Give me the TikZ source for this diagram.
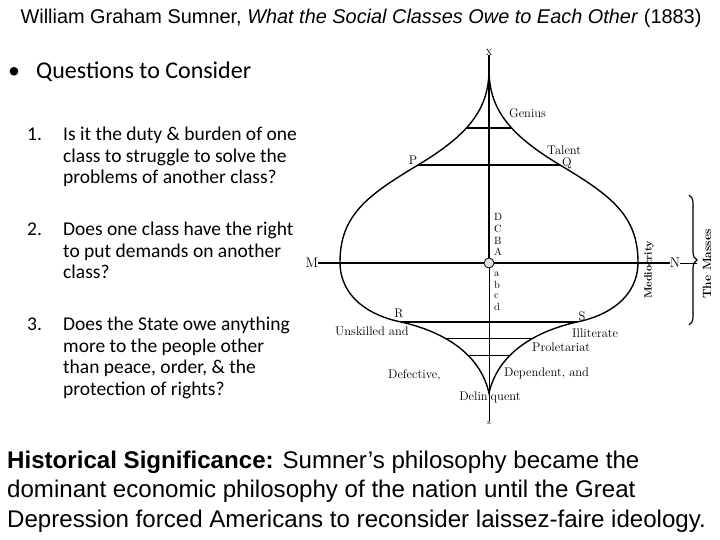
\documentclass[tikz,border=0pt]{standalone}
\usepackage{fontspec}
\newfontfamily\arialfont{Liberation Sans}
\newfontfamily\calibrifont{Carlito}
\usetikzlibrary{decorations.pathreplacing}

\tikzset{
    lbl/.style={inner sep=0pt, font=\fontsize{12.5}{14}\selectfont},
    stack lbl/.style={inner sep=0pt, anchor=west, font=\fontsize{10.5}{12}\selectfont},
    tiny lbl/.style={inner sep=0pt, font=\fontsize{9}{10}\selectfont},
    big lbl/.style={inner sep=0pt, font=\fontsize{14}{16}\selectfont},
    item/.style={inner sep=0pt, anchor=north west, align=left, font=\calibrifont\fontsize{19.5}{21.7}\selectfont},
    bulb/.style={line width=1.4pt}
}

\begin{document}
\begin{tikzpicture}[x=1pt, y=-1pt]
        \useasboundingbox (0, 0) rectangle (720, 540);

        \node[font=\arialfont\fontsize{19.9}{22}\selectfont] (title) at (361, 18) {William Graham Sumner, \textit{What the Social Classes Owe to Each Other} (1883)};

        \begin{scope}
            \node[inner sep=0pt, font=\calibrifont\fontsize{24}{28}\selectfont] (bullet) at (14, 73) {\textbullet};
            \node[inner sep=0pt, anchor=west, font=\calibrifont\fontsize{24}{28}\selectfont] (questions) at (36, 72) {Questions to Consider};
            \node[item] (item1) at (27, 125) {\begin{tabular}{@{}p{36pt}@{}l@{}}1. & Is it the duty \& burden of one\\ & class to struggle to solve the\\ & problems of another class?\end{tabular}};
            \node[item] (item2) at (27, 220) {\begin{tabular}{@{}p{36pt}@{}l@{}}2. & Does one class have the right\\ & to put demands on another\\ & class?\end{tabular}};
            \node[item] (item3) at (27, 315) {\begin{tabular}{@{}p{36pt}@{}l@{}}3. & Does the State owe anything\\ & more to the people other\\ & than peace, order, \& the\\ & protection of rights?\end{tabular}};
        \end{scope}

        \begin{scope}
            \coordinate (bulb top) at (489, 72);
            \coordinate (bulb q) at (560, 165);
            \coordinate (bulb p) at (418, 165);
            \coordinate (bulb right) at (638, 262);
            \coordinate (bulb left) at (340, 262);
            \coordinate (bulb s) at (577, 322);
            \coordinate (bulb r) at (401, 322);
            \coordinate (bulb bottom) at (489, 393);
            \draw[bulb] (bulb top) .. controls (490, 110) and (510, 135) .. (bulb q)
                .. controls (610, 195) and (638, 215) .. (bulb right)
                .. controls (638, 298) and (607, 316) .. (bulb s)
                .. controls (550, 328) and (500, 345) .. (bulb bottom)
                .. controls (478, 345) and (428, 328) .. (bulb r)
                .. controls (371, 316) and (340, 298) .. (bulb left)
                .. controls (340, 215) and (368, 195) .. (bulb p)
                .. controls (468, 135) and (488, 110) .. (bulb top);

            \coordinate (genius a) at (466.3, 128);
            \coordinate (genius b) at (511.7, 128);
            \coordinate (low1 a) at (445.7, 338.6);
            \coordinate (low1 b) at (532.3, 338.6);
            \coordinate (low2 a) at (468.5, 355.8);
            \coordinate (low2 b) at (509.5, 355.8);
            \draw[line width=1.2pt] (genius a) -- (genius b);
            \draw[line width=1.4pt] (bulb p) -- (bulb q);
            \draw[line width=1.4pt] (bulb r) -- (bulb s);
            \draw[line width=1.2pt] (low1 a) -- (low1 b);
            \draw[line width=0.7pt] (low2 a) -- (low2 b);

            \node[tiny lbl] (X) at (489, 52) {X};
            \node[inner sep=0pt, font=\fontsize{7}{8}\selectfont] (x) at (489, 423) {x};
            \node[big lbl] (M) at (312, 263) {M};
            \node[big lbl] (N) at (675, 263) {N};
            \node[circle, draw, line width=0.8pt, fill=gray!25, minimum size=10pt, inner sep=0pt] (center) at (489, 263) {};

            \draw[line width=1.4pt] (X.south) -- (center.north);
            \draw[line width=0.8pt] (center.south) -- (x.north);
            \draw[line width=1.2pt] (M.east) -- (center.west);
            \draw[line width=1.2pt] (center.east) -- (N.west);

            \coordinate (masses top) at (689, 195);
            \coordinate (masses bottom) at (689, 325);
            \coordinate (masses tip) at (697, 263);
            \draw[line width=1.2pt, decorate, decoration={brace, amplitude=8pt}] (masses top) -- (masses bottom);
            \draw[line width=0.8pt] (N.east) -- (masses tip);

            \node[lbl, anchor=west] (genius) at (509, 113) {Genius};
            \node[lbl, anchor=west] (talent) at (547, 150) {Talent};
            \node[lbl] (P) at (413, 160) {P};
            \node[lbl] (Q) at (567, 163) {Q};
            \node[stack lbl] (D) at (494, 217) {D};
            \node[stack lbl] (C) at (494, 229) {C};
            \node[stack lbl] (B) at (494, 241) {B};
            \node[stack lbl] (A) at (494, 252) {A};
            \node[stack lbl] (a) at (494, 274) {a};
            \node[stack lbl] (b) at (494, 285) {b};
            \node[stack lbl] (c) at (494, 296) {c};
            \node[stack lbl] (d) at (494, 307) {d};
            \node[lbl, rotate=90, font=\bfseries\fontsize{10.5}{12}\selectfont] (mediocrity) at (649, 270) {Mediocrity};
            \node[lbl, rotate=90, font=\bfseries\fontsize{12}{14}\selectfont] (masses) at (707, 264) {The Masses};
            \node[lbl] (R) at (399, 313) {R};
            \node[lbl] (S) at (582, 316) {S};
            \node[lbl, anchor=west] (unskilled) at (335, 331) {Unskilled and};
            \node[lbl, anchor=west] (illiterate) at (572, 333) {Illiterate};
            \node[lbl, anchor=west] (proletariat) at (532, 347) {Proletariat};
            \node[lbl, anchor=west] (defective) at (388, 375) {Defective,};
            \node[lbl, anchor=west] (dependent) at (504, 373) {Dependent, and};
            \node[lbl] (delinquent) at (490, 397) {Delin\hspace{3pt}quent};
        \end{scope}

        \node[inner sep=0pt, anchor=north west, align=left, font=\arialfont\fontsize{24.1}{29.3}\selectfont] (significance) at (7, 451) {\textbf{Historical Significance:} Sumner’s philosophy became the\\dominant economic philosophy of the nation until the Great\\Depression forced Americans to reconsider laissez-faire ideology.};
    \end{tikzpicture}
\end{document}
